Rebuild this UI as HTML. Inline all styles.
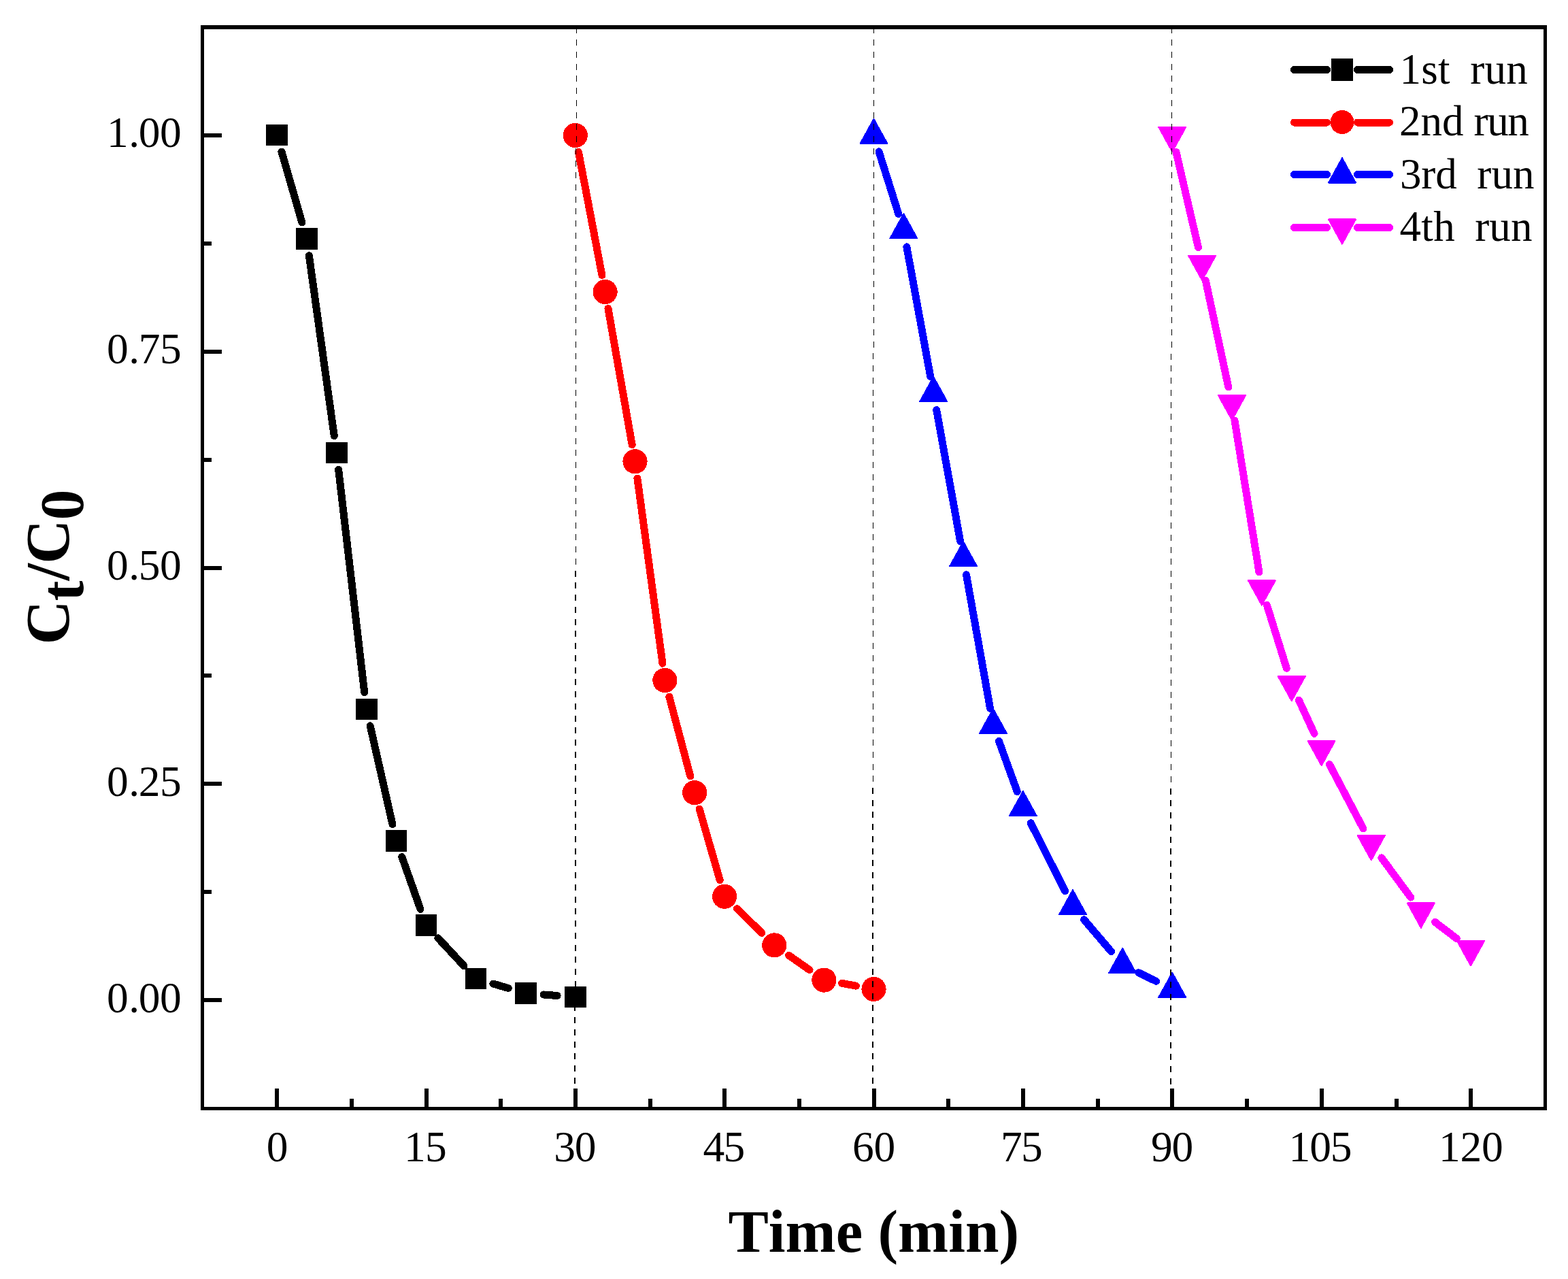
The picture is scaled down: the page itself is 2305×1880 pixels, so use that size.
<!DOCTYPE html>
<html lang="en"><head><meta charset="utf-8"><title>Ct/C0 vs Time - recycling runs</title>
<style>
html,body{margin:0;padding:0;background:#fff;}
body{width:2305px;height:1880px;overflow:hidden;}
svg{display:block;}
text{font-family:"Liberation Serif","DejaVu Serif",serif;fill:#000;font-kerning:none;white-space:pre;}
.tick{font-size:63.5px;}
.leg{font-size:63px;}
.title{font-size:89px;font-weight:bold;}
.ytitle{font-size:90px;font-weight:bold;}
</style></head><body>
<svg width="2305" height="1880" viewBox="0 0 2305 1880">
<rect x="0" y="0" width="2305" height="1880" fill="#ffffff"/>
<g id="curves" fill="none" stroke-linecap="round" shape-rendering="crispEdges">
<path d="M413.94 223.04L443.93 326.96M454.32 375.69L491.3 640.71M497.63 690.15L535.74 1017.75M544.15 1066.86L576.98 1211.64M590.87 1259.65L618.01 1336.35M643.89 1378.8L681.99 1419.7M724.96 1445.99L747.16 1452.51M799.24 1462L819.14 1463.5" stroke="#000000" stroke-width="11"/>
<path d="M850.43 223.52L884.95 404.48M893.95 453.57L929.18 653.73M936.87 703L974.01 975.3M983.8 1024.17L1014.83 1140.93M1028.16 1189.15L1058.21 1293.65M1083.53 1335.74L1119.85 1371.36M1159.6 1404.35L1190.02 1425.65M1237.58 1445.37L1258.29 1449.13" stroke="#ff0000" stroke-width="11"/>
<path d="M1292.02 222.89L1320.85 314.41M1332.87 362.84L1367.76 553.46M1376.7 602.55L1411.68 795.75M1420.51 844.86L1455.61 1041.44M1468.54 1089.59L1495.33 1163.61M1515.23 1209.74L1565.64 1309.76M1593.6 1351.8L1633.52 1398.7M1673.78 1429.75L1699.6 1442.35" stroke="#0000ff" stroke-width="11"/>
<path d="M1728.9 223.34L1761.48 363.66M1772.34 412.42L1805.78 568.98M1814.97 618.02L1850.9 840.78M1862.33 889.31L1891.3 982.29M1909.31 1029.07L1932.06 1078.33M1954.38 1123.56L2004 1217.94M2030.87 1260.83L2073.76 1319.07M2109.55 1355.35L2141.32 1379.55" stroke="#ff00ff" stroke-width="11"/>
</g>
<g id="markers" shape-rendering="crispEdges">
<rect x="391" y="183" width="32" height="31" fill="#000000"/>
<rect x="435" y="335" width="32" height="32" fill="#000000"/>
<rect x="479" y="650" width="32" height="31" fill="#000000"/>
<rect x="523" y="1027" width="32" height="31" fill="#000000"/>
<rect x="567" y="1220" width="31" height="32" fill="#000000"/>
<rect x="611" y="1344" width="31" height="32" fill="#000000"/>
<rect x="684" y="1423" width="31" height="31" fill="#000000"/>
<rect x="757" y="1444" width="32" height="32" fill="#000000"/>
<rect x="830" y="1450" width="32" height="31" fill="#000000"/>
<circle cx="845.75" cy="199" r="18.1" fill="#ff0000"/>
<circle cx="889.62" cy="429" r="18.1" fill="#ff0000"/>
<circle cx="933.5" cy="678.3" r="18.1" fill="#ff0000"/>
<circle cx="977.38" cy="1000" r="18.1" fill="#ff0000"/>
<circle cx="1021.25" cy="1165.1" r="18.1" fill="#ff0000"/>
<circle cx="1065.12" cy="1317.7" r="18.1" fill="#ff0000"/>
<circle cx="1138.25" cy="1389.4" r="18.1" fill="#ff0000"/>
<circle cx="1211.38" cy="1440.6" r="18.1" fill="#ff0000"/>
<circle cx="1284.5" cy="1453.9" r="18.1" fill="#ff0000"/>
<polygon points="1284.5,174.85 1304.5,211.15 1264.5,211.15" fill="#0000ff" stroke="#0000ff" stroke-width="2" stroke-linejoin="round"/>
<polygon points="1328.38,314.15 1348.38,350.45 1308.38,350.45" fill="#0000ff" stroke="#0000ff" stroke-width="2" stroke-linejoin="round"/>
<polygon points="1372.25,553.85 1392.25,590.15 1352.25,590.15" fill="#0000ff" stroke="#0000ff" stroke-width="2" stroke-linejoin="round"/>
<polygon points="1416.12,796.15 1436.12,832.45 1396.12,832.45" fill="#0000ff" stroke="#0000ff" stroke-width="2" stroke-linejoin="round"/>
<polygon points="1460,1041.85 1480,1078.15 1440,1078.15" fill="#0000ff" stroke="#0000ff" stroke-width="2" stroke-linejoin="round"/>
<polygon points="1503.88,1163.05 1523.88,1199.35 1483.88,1199.35" fill="#0000ff" stroke="#0000ff" stroke-width="2" stroke-linejoin="round"/>
<polygon points="1577,1308.15 1597,1344.45 1557,1344.45" fill="#0000ff" stroke="#0000ff" stroke-width="2" stroke-linejoin="round"/>
<polygon points="1650.12,1394.05 1670.12,1430.35 1630.12,1430.35" fill="#0000ff" stroke="#0000ff" stroke-width="2" stroke-linejoin="round"/>
<polygon points="1723.25,1429.75 1743.25,1466.05 1703.25,1466.05" fill="#0000ff" stroke="#0000ff" stroke-width="2" stroke-linejoin="round"/>
<polygon points="1723.25,223.15 1743.25,186.85 1703.25,186.85" fill="#ff00ff" stroke="#ff00ff" stroke-width="2" stroke-linejoin="round"/>
<polygon points="1767.12,412.15 1787.12,375.85 1747.12,375.85" fill="#ff00ff" stroke="#ff00ff" stroke-width="2" stroke-linejoin="round"/>
<polygon points="1811,617.55 1831,581.25 1791,581.25" fill="#ff00ff" stroke="#ff00ff" stroke-width="2" stroke-linejoin="round"/>
<polygon points="1854.88,889.55 1874.88,853.25 1834.88,853.25" fill="#ff00ff" stroke="#ff00ff" stroke-width="2" stroke-linejoin="round"/>
<polygon points="1898.75,1030.35 1918.75,994.05 1878.75,994.05" fill="#ff00ff" stroke="#ff00ff" stroke-width="2" stroke-linejoin="round"/>
<polygon points="1942.62,1125.35 1962.62,1089.05 1922.62,1089.05" fill="#ff00ff" stroke="#ff00ff" stroke-width="2" stroke-linejoin="round"/>
<polygon points="2015.75,1264.45 2035.75,1228.15 1995.75,1228.15" fill="#ff00ff" stroke="#ff00ff" stroke-width="2" stroke-linejoin="round"/>
<polygon points="2088.88,1363.75 2108.88,1327.45 2068.88,1327.45" fill="#ff00ff" stroke="#ff00ff" stroke-width="2" stroke-linejoin="round"/>
<polygon points="2162,1419.45 2182,1383.15 2142,1383.15" fill="#ff00ff" stroke="#ff00ff" stroke-width="2" stroke-linejoin="round"/>
</g>
<g id="guides" stroke="#000" fill="none" shape-rendering="crispEdges">
<line x1="847.5" y1="40.36" x2="847.5" y2="215" stroke-width="1" stroke-dasharray="9 8.740" stroke-dashoffset="0"/>
<line x1="846.5" y1="215" x2="846.5" y2="838" stroke-width="1" stroke-dasharray="9 8.740" stroke-dashoffset="14.98"/>
<line x1="846" y1="838" x2="846" y2="1465" stroke-width="2" stroke-dasharray="9 8.740" stroke-dashoffset="17.08"/>
<line x1="845" y1="1465" x2="845" y2="1630" stroke-width="2" stroke-dasharray="9 8.740" stroke-dashoffset="5.44"/>
<line x1="1284.5" y1="40.36" x2="1284.5" y2="516" stroke-width="1" stroke-dasharray="9 8.740" stroke-dashoffset="0"/>
<line x1="1283.5" y1="516" x2="1283.5" y2="1149" stroke-width="1" stroke-dasharray="9 8.740" stroke-dashoffset="14.4"/>
<line x1="1283" y1="1149" x2="1283" y2="1630" stroke-width="2" stroke-dasharray="9 8.740" stroke-dashoffset="8.76"/>
<line x1="1722.5" y1="40.36" x2="1722.5" y2="516" stroke-width="1" stroke-dasharray="9 8.752" stroke-dashoffset="0"/>
<line x1="1721.5" y1="516" x2="1721.5" y2="1150" stroke-width="1" stroke-dasharray="9 8.752" stroke-dashoffset="14.09"/>
<line x1="1721" y1="1150" x2="1721" y2="1630" stroke-width="2" stroke-dasharray="9 8.752" stroke-dashoffset="9.02"/>
</g>
<g id="frame" fill="#000" shape-rendering="crispEdges">
<rect x="295" y="37" width="1979" height="6"/>
<rect x="295" y="1627" width="1979" height="5"/>
<rect x="295" y="37" width="5" height="1595"/>
<rect x="2269" y="37" width="5" height="1595"/>
<rect x="404" y="1600" width="6" height="30"/>
<rect x="624" y="1600" width="6" height="30"/>
<rect x="843" y="1600" width="6" height="30"/>
<rect x="1062" y="1600" width="6" height="30"/>
<rect x="1282" y="1600" width="6" height="30"/>
<rect x="1501" y="1600" width="6" height="30"/>
<rect x="1720" y="1600" width="6" height="30"/>
<rect x="1940" y="1600" width="6" height="30"/>
<rect x="2159" y="1600" width="6" height="30"/>
<rect x="514" y="1615" width="6" height="15"/>
<rect x="733" y="1615" width="6" height="15"/>
<rect x="953" y="1615" width="6" height="15"/>
<rect x="1172" y="1615" width="6" height="15"/>
<rect x="1391" y="1615" width="6" height="15"/>
<rect x="1611" y="1615" width="6" height="15"/>
<rect x="1830" y="1615" width="6" height="15"/>
<rect x="2050" y="1615" width="6" height="15"/>
<rect x="297" y="1467" width="29" height="6"/>
<rect x="297" y="1149" width="29" height="6"/>
<rect x="297" y="832" width="29" height="6"/>
<rect x="297" y="514" width="29" height="6"/>
<rect x="297" y="196" width="29" height="6"/>
<rect x="297" y="1308" width="14" height="6"/>
<rect x="297" y="990" width="14" height="6"/>
<rect x="297" y="673" width="14" height="6"/>
<rect x="297" y="355" width="14" height="6"/>
</g>
<g id="xlabels">
<text class="tick" x="391.73" y="1706.5">0</text>
<text class="tick" x="593.92 624.93" y="1706.5">15</text>
<text class="tick" x="814.36 844.76" y="1706.5">30</text>
<text class="tick" x="1033.46 1063.53" y="1706.5">45</text>
<text class="tick" x="1253.02 1284.52" y="1706.5">60</text>
<text class="tick" x="1471.11 1501.03" y="1706.5">75</text>
<text class="tick" x="1691.95 1722.47" y="1706.5">90</text>
<text class="tick" x="1894.62 1925.22 1955.83" y="1706.5">105</text>
<text class="tick" x="2114.89 2146.39 2177.89" y="1706.5">120</text>
</g>
<g id="ylabels">
<text class="tick" x="157.03 189.15 203.83 235.03" y="1488.4">0.00</text>
<text class="tick" x="157.03 189.15 203.83 235.03" y="1170.35">0.25</text>
<text class="tick" x="157.03 189.15 203.83 235.03" y="852.3">0.50</text>
<text class="tick" x="157.03 189.15 203.83 235.03" y="534.25">0.75</text>
<text class="tick" x="157.03 189.15 203.83 235.03" y="216.2">1.00</text>
</g>
<text class="title" x="1070.4 1129.76 1154.49 1228.63 1268.13 1290.38 1320.02 1394.15 1418.88 1468.38" y="1840">Time (min)</text>
<text class="ytitle" transform="translate(101.2,948.8) rotate(-90)"><tspan x="1.3" y="0">C</tspan><tspan x="65.3" y="20.9">t</tspan><tspan x="95.6" y="0">/</tspan><tspan x="120" y="0">C</tspan><tspan x="184.4" y="20.9">0</tspan></text>
<g id="legend" shape-rendering="crispEdges">
<path d="M1902.5 102.5H1950.5M1995.5 102.5H2042.5" stroke="#000000" stroke-width="11" stroke-linecap="round" fill="none"/>
<rect x="1957" y="86" width="32" height="33" fill="#000000"/>
<text class="leg" x="2057.46 2089.21 2113.97 2131.47 2146.97 2161.34 2182.54 2214.25" y="122.8">1st  run</text>
<path d="M1902.5 180.0H1950.5M1995.5 180.0H2042.5" stroke="#ff0000" stroke-width="11" stroke-linecap="round" fill="none"/>
<circle cx="1973" cy="179.5" r="17.5" fill="#ff0000"/>
<text class="leg" x="2057.03 2088.55 2120.07 2151.57 2166.54 2186.19 2216.35" y="199">2nd run</text>
<path d="M1902.5 256.5H1950.5M1995.5 256.5H2042.5" stroke="#0000ff" stroke-width="11" stroke-linecap="round" fill="none"/>
<polygon points="1973,232.35 1993,268.65 1953,268.65" fill="#0000ff" stroke="#0000ff" stroke-width="2" stroke-linejoin="round"/>
<text class="leg" x="2057.89 2089.29 2110.17 2141.67 2157.17 2171.24 2192.39 2224.05" y="277.3">3rd  run</text>
<path d="M1902.5 334.5H1950.5M1995.5 334.5H2042.5" stroke="#ff00ff" stroke-width="11" stroke-linecap="round" fill="none"/>
<polygon points="1973,358.65 1993,322.35 1953,322.35" fill="#ff00ff" stroke="#ff00ff" stroke-width="2" stroke-linejoin="round"/>
<text class="leg" x="2057.57 2089.35 2107.13 2138.63 2154.13 2168.14 2189.29 2220.95" y="354">4th  run</text>
</g>
</svg>
</body></html>
